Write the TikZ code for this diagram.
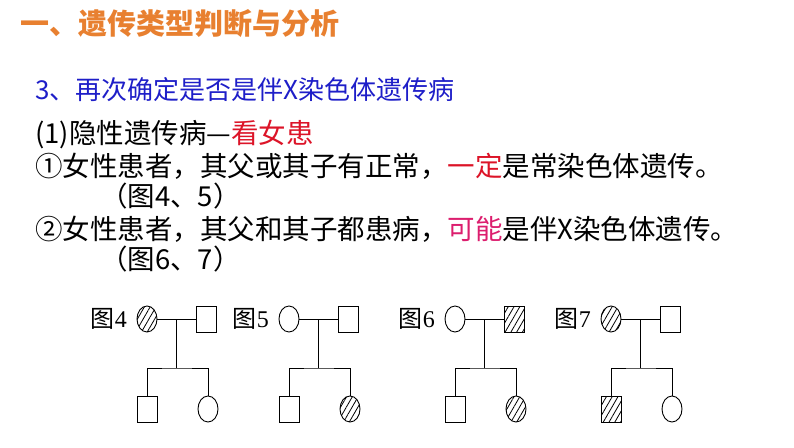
\documentclass[tikz,border=0pt]{standalone}
\usepackage{fontspec}
\setmainfont{Noto Sans CJK SC}
\newfontfamily\serifnum{Liberation Serif}
\usetikzlibrary{positioning}
\usetikzlibrary{shapes.geometric}
\usetikzlibrary{patterns.meta}

\definecolor{titleorange}{RGB}{232,128,48}
\definecolor{headblue}{RGB}{30,30,200}
\definecolor{keyred}{RGB}{220,20,40}
\definecolor{keypink}{RGB}{220,30,110}

\tikzset{
  line/.style={draw=black, line width=0.9pt},
  female/.style={line, ellipse, minimum width=20, minimum height=26, inner sep=0pt},
  male/.style={line, rectangle, minimum width=20, minimum height=26, inner sep=0pt},
  ill/.style={pattern={Lines[angle=60, distance=5pt, line width=0.8pt]}},
  healthy/.style={fill=white},
  textline/.style={anchor=west, inner sep=0pt, font=\fontsize{27.5}{27.5}\selectfont},
}

% #1 name, #2 x of mother, #3 label, #4-#7 mother, father, son, daughter
\newcommand{\pedigree}[7]{%
  \node[anchor=east, inner sep=0pt, font=\fontsize{24}{24}\selectfont] (#1lab) at (#2-20,319) {图\serifnum#3};
  \node[female,#4] (#1mo) at (#2,319) {};
  \node[male,#5] (#1fa) at (#2+59,319) {};
  \coordinate (#1mid) at (#2+29,319);
  \coordinate (#1sib) at (#2+29,368);
  \node[male,#6] (#1son) at (#2,409) {};
  \node[female,#7] (#1dau) at (#2+61,409) {};
  \draw[line] (#1mo) -- (#1fa);
  \draw[line] (#1mid) -- (#1sib);
  \draw[line] (#1son.north) |- (#1sib) -| (#1dau.north);
}

\begin{document}
\begin{tikzpicture}[x=1pt, y=-1pt]
  \useasboundingbox (0,0) rectangle (794,447);

  \node[textline, text=titleorange, font=\fontsize{29}{29}\selectfont\bfseries] (title) at (20,24) {一、遗传类型判断与分析};
  \node[textline, text=headblue, font=\fontsize{26}{26}\selectfont] (head) at (35,90) {3、再次确定是否是伴X染色体遗传病};
  \node[textline] (rec) at (35,135) {(1)隐性遗传病—\textcolor{keyred}{看女患}};
  \node[textline] (one) at (35,166) {①女性患者，其父或其子有正常，\textcolor{keyred}{一定}是常染色体遗传。};
  \node[textline] (onefig) at (100,196) {（图4、5）};
  \node[textline] (two) at (35,229) {②女性患者，其父和其子都患病，\textcolor{keypink}{可能}是伴X染色体遗传。};
  \node[textline] (twofig) at (100,259) {（图6、7）};

  \pedigree{pa}{147}{4}{ill}{healthy}{healthy}{healthy}
  \pedigree{pb}{289}{5}{healthy}{healthy}{healthy}{ill}
  \pedigree{pc}{455}{6}{healthy}{ill}{healthy}{ill}
  \pedigree{pd}{611}{7}{ill}{healthy}{ill}{healthy}
\end{tikzpicture}
\end{document}
